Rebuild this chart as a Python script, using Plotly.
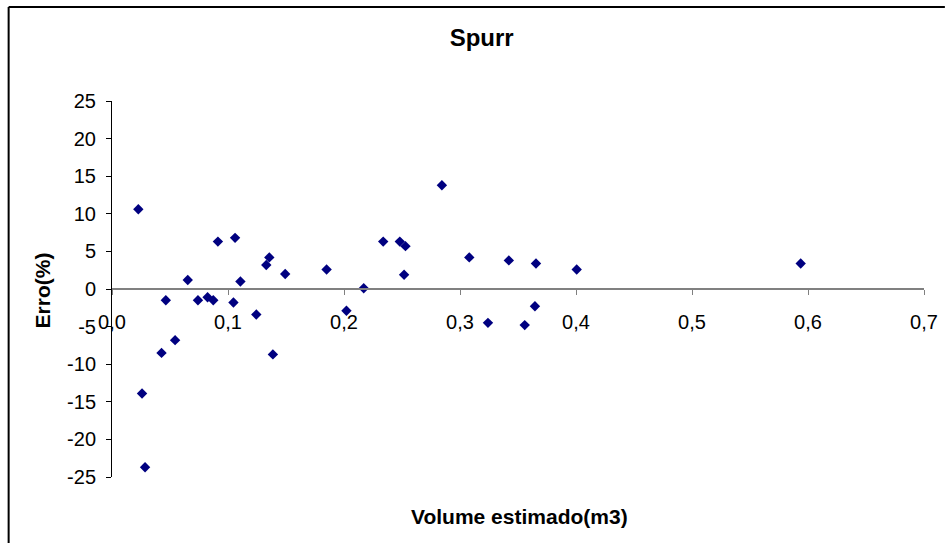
import plotly.graph_objects as go

# Data
volume_estimado = [0.0227, 0.0259, 0.0285, 0.0427, 0.0464, 0.0544, 0.0653, 0.0741,
                   0.0824, 0.0873, 0.0913, 0.1047, 0.1061, 0.1107, 0.1244, 0.1330,
                   0.1356, 0.1387, 0.1493, 0.1850, 0.2021, 0.2170, 0.2338, 0.2481,
                   0.2518, 0.2530, 0.2844, 0.3080, 0.3241, 0.3421, 0.3558, 0.3646,
                   0.3655, 0.4006, 0.5937]
erro_pct = [10.6, -13.9, -23.7, -8.5, -1.5, -6.8, 1.2, -1.5,
            -1.1, -1.5, 6.3, -1.8, 6.8, 1.0, -3.4, 3.2,
            4.2, -8.7, 2.0, 2.6, -2.9, 0.1, 6.3, 6.3,
            1.9, 5.7, 13.8, 4.2, -4.5, 3.8, -4.8, -2.3,
            3.4, 2.6, 3.4]

y_tickvals = [-25, -20, -15, -10, -5, 0, 5, 10, 15, 20, 25]
y_ticktext = ["-25", "-20", "-15", "-10", "-5", "0", "5", "10", "15", "20", "25"]
x_tickvals = [0.0, 0.1, 0.2, 0.3, 0.4, 0.5, 0.6, 0.7]
x_ticktext = ["0,0", "0,1", "0,2", "0,3", "0,4", "0,5", "0,6", "0,7"]

FONT = "Liberation Sans, Arial, sans-serif"
W, H = 950, 543
ML, MR, MT, MB = 112, 21, 101, 66
PW, PH = W - ML - MR, H - MT - MB


def px_to_paper_x(px):
    return (px - ML) / PW


def px_to_paper_y(py):
    return (H - MB - py) / PH


fig = go.Figure()
fig.add_trace(go.Scatter(
    x=volume_estimado, y=erro_pct, mode="markers",
    marker=dict(symbol="diamond", size=8, color="#000080", line=dict(width=0)),
    showlegend=False, hoverinfo="x+y",
))

fig.update_layout(
    width=W, height=H,
    margin=dict(l=ML, r=MR, t=MT, b=MB),
    paper_bgcolor="white", plot_bgcolor="white",
    font=dict(family=FONT, color="black", size=20),
    title=dict(text="<b>Spurr</b>", font=dict(size=24, family=FONT, color="black"),
               x=px_to_paper_x(484), xref="paper", xanchor="center",
               y=1 - 38 / H, yref="container", yanchor="middle"),
    xaxis=dict(range=[0, 0.7], tickvals=x_tickvals, ticktext=x_ticktext,
               showgrid=False, zeroline=False, showline=True,
               linecolor="#808080", linewidth=1.5,
               ticks="outside", ticklen=5, tickcolor="#808080", tickwidth=1,
               anchor="free", position=0.5, ticklabelstandoff=10,
               tickfont=dict(size=20, family=FONT, color="black")),
    yaxis=dict(range=[-25, 25], tickvals=y_tickvals, ticktext=y_ticktext,
               showgrid=False, zeroline=False, showline=True,
               linecolor="black", linewidth=1,
               ticks="outside", ticklen=5, tickcolor="black", tickwidth=1,
               ticklabelstandoff=6,
               tickfont=dict(size=20, family=FONT, color="black")),
    annotations=[
        dict(text="<b>Volume estimado(m3)</b>", xref="paper", yref="paper",
             x=px_to_paper_x(522), y=px_to_paper_y(516), xanchor="center", yanchor="middle",
             showarrow=False, font=dict(size=21, family=FONT, color="black")),
        dict(text="<b>Erro(%)</b>", xref="paper", yref="paper", textangle=-90,
             x=px_to_paper_x(42), y=px_to_paper_y(290), xanchor="center", yanchor="middle",
             showarrow=False, font=dict(size=21, family=FONT, color="black")),
    ],
    shapes=[
        dict(type="line", xref="paper", yref="paper",
             x0=px_to_paper_x(8), x1=px_to_paper_x(950),
             y0=px_to_paper_y(7), y1=px_to_paper_y(7),
             line=dict(color="black", width=2), layer="below"),
        dict(type="line", xref="paper", yref="paper",
             x0=px_to_paper_x(8), x1=px_to_paper_x(8),
             y0=px_to_paper_y(7), y1=px_to_paper_y(543),
             line=dict(color="black", width=2), layer="below"),
    ],
)

fig.write_html(
    "out.html",
    config={"displayModeBar": False},
    post_script="document.documentElement.style.overflow='hidden';"
                "document.body.style.overflow='hidden';document.body.style.margin='0';",
)
